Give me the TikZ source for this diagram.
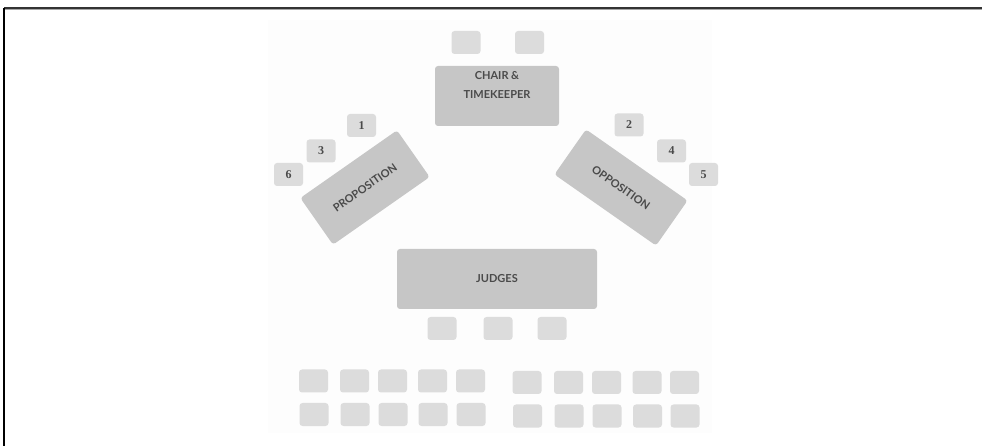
\documentclass[tikz,border=0pt]{standalone}
\usepackage{fontspec}
\setmainfont{Lato}
\newfontfamily\numfont{Liberation Serif}
\definecolor{tablegray}{HTML}{C6C6C6}
\definecolor{chairgray}{HTML}{DCDCDC}
\definecolor{labelgray}{HTML}{4A4A4A}
\definecolor{floorgray}{HTML}{FDFDFD}
\begin{document}
\begin{tikzpicture}[x=1bp,y=-1bp,
  labelfont/.style={text=labelgray, font=\bfseries\fontsize{11bp}{19bp}\selectfont},
  tablebox/.style={fill=tablegray, draw=none, rounded corners=3bp, inner sep=0pt,
    labelfont, align=center},
  chairbox/.style={fill=chairgray, draw=none, rounded corners=3bp, inner sep=0pt,
    minimum width=29bp, minimum height=23bp},
  seatnum/.style={chairbox, text=labelgray, font=\numfont\bfseries\fontsize{12bp}{13bp}\selectfont}]
\useasboundingbox (0,0) rectangle (982,446);
\fill[white] (0,0) rectangle (982,446);
% faint floor area
\fill[floorgray] (268,20) rectangle (712,433);
% frame lines
\draw[line width=1.6bp, black!80] (4,8) -- (982,8);
\draw[line width=0.8bp, black!35] (4,9.6) -- (982,9.6);
\draw[line width=1.6bp, black] (4,8) -- (4,446);
% chair & timekeeper
\node[chairbox] (ct1) at (466,42.5) {};
\node[chairbox] (ct2) at (529.5,42.5) {};
\node[tablebox, minimum width=124bp, minimum height=60bp] (chair) at (497,96) {};
\node[labelfont, align=center] (chairlbl) at (497,85) {CHAIR \&\\TIMEKEEPER};
% proposition
\node[tablebox, rotate=35, minimum width=118bp, minimum height=57bp] (prop) at (365,187.5) {PROPOSITION};
\node[seatnum] (s1) at (361.5,125.5) {1};
\node[seatnum] (s3) at (321,151) {3};
\node[seatnum] (s6) at (288.5,174.5) {6};
% opposition
\node[tablebox, rotate=-35, minimum width=124bp, minimum height=55bp] (opp) at (621,187.5) {OPPOSITION};
\node[seatnum] (s2) at (629,125) {2};
\node[seatnum] (s4) at (671.5,151) {4};
\node[seatnum] (s5) at (703.5,174.5) {5};
% judges
\node[tablebox, minimum width=200bp, minimum height=60bp] (judges) at (497,279) {JUDGES};
\node[chairbox] (j1) at (442,328.5) {};
\node[chairbox] (j2) at (498,328.5) {};
\node[chairbox] (j3) at (552,328.5) {};
% audience left
\foreach \x [count=\i] in {313.5,354.5,392.5,432.5,470.5}{
  \node[chairbox] (al1\i) at (\x,381) {};
  \node[chairbox] (al2\i) at (\x+0.5,414.5) {};
}
% audience right
\foreach \x [count=\i] in {527,568.5,606.5,647,684.5}{
  \node[chairbox] (ar1\i) at (\x,382.5) {};
  \node[chairbox] (ar2\i) at (\x+0.5,416) {};
}
\end{tikzpicture}
\end{document}
